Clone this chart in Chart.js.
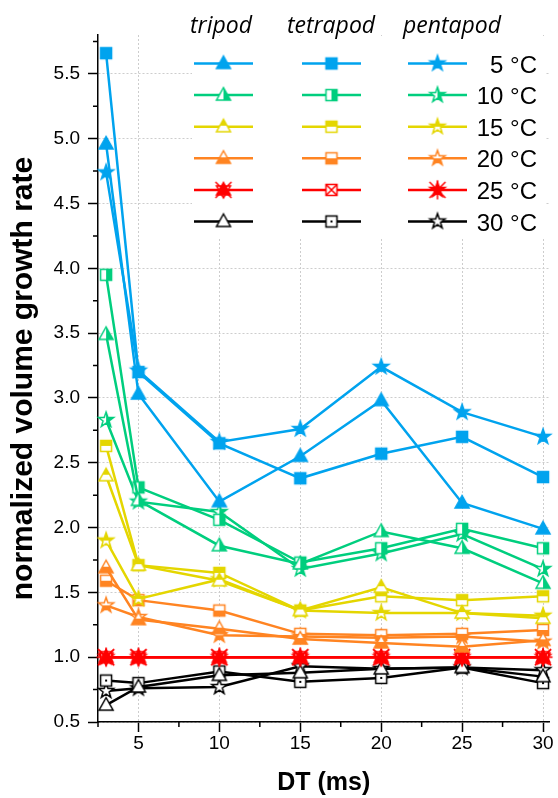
<!DOCTYPE html>
<html>
<head>
<meta charset="utf-8">
<script src="https://cdn.jsdelivr.net/npm/chart.js@4"></script>
<style>
  html, body { margin: 0; padding: 0; background: #fff; }
</style>
</head>
<body>
<canvas id="myChart" width="558" height="798"></canvas>
<script>
// DT values (ms) and groups
const dtValues = [3, 5, 10, 15, 20, 25, 30];
const temperatures = ['5 °C', '10 °C', '15 °C', '20 °C', '25 °C', '30 °C'];
const gaits = ['tripod', 'tetrapod', 'pentapod'];

// normalized volume growth rate, one array per gait and temperature
const tripod5 = [4.96, 3.03, 2.20, 2.55, 2.98, 2.19, 1.99];
const tetrapod5 = [5.66, 3.20, 2.65, 2.38, 2.57, 2.70, 2.39];
const pentapod5 = [4.74, 3.21, 2.66, 2.76, 3.24, 2.89, 2.70];

const tripod10 = [3.49, 2.21, 1.86, 1.72, 1.97, 1.84, 1.57];
const tetrapod10 = [3.95, 2.31, 2.06, 1.73, 1.84, 1.99, 1.84];
const pentapod10 = [2.83, 2.20, 2.12, 1.68, 1.80, 1.95, 1.68];

const tripod15 = [2.40, 1.71, 1.59, 1.36, 1.54, 1.34, 1.30];
const tetrapod15 = [2.63, 1.71, 1.65, 1.36, 1.47, 1.44, 1.47];
const pentapod15 = [1.90, 1.45, 1.60, 1.36, 1.34, 1.34, 1.32];

const tripod20 = [1.69, 1.29, 1.22, 1.14, 1.11, 1.08, 1.13];
const tetrapod20 = [1.59, 1.44, 1.36, 1.18, 1.17, 1.18, 1.21];
const pentapod20 = [1.40, 1.31, 1.17, 1.16, 1.15, 1.16, 1.12];

const tripod25 = [1.00, 1.00, 1.00, 1.00, 1.00, 1.00, 1.00];
const tetrapod25 = [1.00, 1.00, 1.00, 1.00, 1.00, 1.00, 1.00];
const pentapod25 = [1.00, 1.00, 1.00, 1.00, 1.00, 1.00, 1.00];

const tripod30 = [0.63, 0.77, 0.86, 0.88, 0.91, 0.92, 0.85];
const tetrapod30 = [0.82, 0.80, 0.89, 0.81, 0.84, 0.92, 0.80];
const pentapod30 = [0.74, 0.76, 0.77, 0.93, 0.91, 0.92, 0.90];

// tick labels
const xMajorTicks = [5, 10, 15, 20, 25, 30];
const yMajorTicks = [0.5, 1.0, 1.5, 2.0, 2.5, 3.0, 3.5, 4.0, 4.5, 5.0, 5.5];

const seriesByTemp = [
  [tripod5, tetrapod5, pentapod5],
  [tripod10, tetrapod10, pentapod10],
  [tripod15, tetrapod15, pentapod15],
  [tripod20, tetrapod20, pentapod20],
  [tripod25, tetrapod25, pentapod25],
  [tripod30, tetrapod30, pentapod30]
];

const colors = ['#00A3EE', '#00CE7E', '#E4D600', '#FF8422', '#FF0000', '#000000'];
const fills = ['full', 'right', 'top', 'bottom', 'cross', 'hollow'];
const shapes = ['triangle', 'square', 'star'];

const FONT = "'Liberation Sans', Arial, sans-serif";
Chart.defaults.font.family = FONT;
Chart.defaults.color = '#000';
Chart.defaults.animation = false;

// small canvas images used as point styles
function makeMarker(shape, color, fill) {
  const s = 22;
  const c = document.createElement('canvas');
  c.width = s; c.height = s;
  const g = c.getContext('2d');
  const m = s / 2;
  function path() {
    g.beginPath();
    if (shape === 'triangle') {
      g.moveTo(m, m - 7.5);
      g.lineTo(m + 7, m + 5);
      g.lineTo(m - 7, m + 5);
      g.closePath();
    } else if (shape === 'square') {
      g.rect(m - 5.5, m - 5.5, 11, 11);
    } else {
      for (let i = 0; i < 10; i++) {
        const r = i % 2 ? 3.2 : 8;
        const a = -Math.PI / 2 + i * Math.PI / 5;
        g.lineTo(m + r * Math.cos(a), m + r * Math.sin(a));
      }
      g.closePath();
    }
  }
  g.lineWidth = 1.5;
  g.strokeStyle = color;
  path();
  g.fillStyle = (fill === 'full' || (fill === 'cross' && shape !== 'square')) ? color : '#fff';
  g.fill();
  if (fill === 'right' || fill === 'top' || fill === 'bottom') {
    const mid = shape === 'triangle' ? m - 1 : m;
    g.save();
    g.beginPath();
    if (fill === 'right') g.rect(m, 0, m, s);
    if (fill === 'top') g.rect(0, 0, s, mid);
    if (fill === 'bottom') g.rect(0, mid, s, s - mid);
    g.clip();
    path();
    g.fillStyle = color;
    g.fill();
    g.restore();
  }
  path();
  g.stroke();
  if (fill === 'cross') {
    g.beginPath();
    const d = shape === 'square' ? 5.5 : 8;
    g.moveTo(m - d, m - d); g.lineTo(m + d, m + d);
    g.moveTo(m + d, m - d); g.lineTo(m - d, m + d);
    if (shape === 'star') {
      g.moveTo(m, m - 9.5); g.lineTo(m, m + 9.5);
      g.moveTo(m - 9.5, m); g.lineTo(m + 9.5, m);
    }
    if (shape === 'triangle') {
      g.moveTo(m - 7, m - 4); g.lineTo(m + 7, m - 4);
      g.lineTo(m, m + 8); g.closePath();
    }
    g.stroke();
  }
  if (fill === 'hollow' && shape === 'square') {
    g.fillStyle = color;
    g.fillRect(m - 1, m - 1, 2, 2);
  }
  return c;
}

const markers = colors.map((col, i) => shapes.map(sh => makeMarker(sh, col, fills[i])));

const datasets = [];
seriesByTemp.forEach((group, i) => {
  group.forEach((vals, j) => {
    datasets.push({
      label: gaits[j] + ' ' + temperatures[i],
      data: dtValues.map((x, k) => ({ x: x, y: vals[k] })),
      borderColor: colors[i],
      backgroundColor: colors[i],
      borderWidth: 2.5,
      pointStyle: markers[i][j],
      pointRadius: 6,
      tension: 0,
      fill: false,
      clip: false
    });
  });
});

// minor tick marks between the major ones
const minorTicks = {
  id: 'minorTicks',
  afterDraw(chart) {
    const { ctx, scales: { x, y } } = chart;
    ctx.save();
    ctx.strokeStyle = '#000';
    ctx.lineWidth = 1.5;
    ctx.beginPath();
    const xStep = xMajorTicks[1] - xMajorTicks[0];
    for (let v = xMajorTicks[0] - xStep / 2; v < x.max; v += xStep) {
      const px = x.getPixelForValue(v);
      ctx.moveTo(px, y.bottom);
      ctx.lineTo(px, y.bottom + 5);
    }
    const yStep = yMajorTicks[1] - yMajorTicks[0];
    for (let v = yMajorTicks[0] + yStep / 2; v < y.max; v += yStep) {
      const py = y.getPixelForValue(v);
      ctx.moveTo(x.left, py);
      ctx.lineTo(x.left - 5, py);
    }
    ctx.stroke();
    ctx.restore();
  }
};

// three column legend: tripod / tetrapod / pentapod
const gaitLegend = {
  id: 'gaitLegend',
  afterDraw(chart) {
    const ctx = chart.ctx;
    const colLine = [[194, 253], [302, 361], [408, 467]];
    const headX = [221, 331, 452];
    ctx.save();
    ctx.fillStyle = '#fff';
    ctx.fillRect(192, 36, 353, 202);
    ctx.fillStyle = '#000';
    ctx.font = "italic 23px 'Open Sans', sans-serif";
    ctx.textAlign = 'center';
    ctx.textBaseline = 'alphabetic';
    gaits.forEach((g, j) => ctx.fillText(g, headX[j], 33));
    temperatures.forEach((t, i) => {
      const yy = 63.5 + i * 31.6;
      colLine.forEach((c, j) => {
        ctx.strokeStyle = colors[i];
        ctx.lineWidth = 2.5;
        ctx.beginPath();
        ctx.moveTo(c[0], yy);
        ctx.lineTo(c[1], yy);
        ctx.stroke();
        const img = markers[i][j];
        ctx.drawImage(img, (c[0] + c[1]) / 2 - img.width / 2, yy - img.height / 2);
      });
      ctx.fillStyle = '#000';
      ctx.font = '24px ' + FONT;
      ctx.textAlign = 'right';
      ctx.fillText(t, 537, yy + 9);
    });
    ctx.restore();
  }
};

new Chart(document.getElementById('myChart'), {
  type: 'line',
  data: { datasets: datasets },
  plugins: [minorTicks, gaitLegend],
  options: {
    responsive: false,
    layout: { padding: { top: 35, right: 0.5, left: 0, bottom: 0 } },
    plugins: {
      legend: { display: false },
      tooltip: { enabled: false }
    },
    scales: {
      x: {
        type: 'linear',
        min: 2.5,
        max: 30.4,
        afterBuildTicks: s => { s.ticks = xMajorTicks.map(v => ({ value: v })); },
        afterFit: s => { s.height = 76; s.paddingLeft = 0; s.paddingRight = 0; },
        ticks: {
          callback: v => String(v),
          font: { size: 19 },
          color: '#000',
          padding: 0,
          maxRotation: 0,
          autoSkip: false
        },
        grid: {
          color: '#cdcdcd',
          lineWidth: 1,
          tickColor: '#000',
          tickLength: 10,
          tickWidth: 1.5
        },
        border: { color: '#000', width: 1.5, dash: [2, 2] },
        title: {
          display: true,
          text: 'DT (ms)',
          font: { size: 25, weight: 'bold', lineHeight: 1.2 },
          color: '#000',
          padding: { top: 0, bottom: 0 }
        }
      },
      y: {
        min: 0.5,
        max: 5.8,
        afterBuildTicks: s => { s.ticks = yMajorTicks.map(v => ({ value: v })); },
        afterFit: s => { s.width = 98; s.paddingTop = 0; s.paddingBottom = 0; },
        ticks: {
          callback: v => Number(v).toFixed(1),
          font: { size: 19 },
          color: '#000',
          padding: 8,
          autoSkip: false
        },
        grid: {
          color: '#cdcdcd',
          lineWidth: 1,
          tickColor: '#000',
          tickLength: 10,
          tickWidth: 1.5
        },
        border: { color: '#000', width: 1.5, dash: [2, 2] },
        title: {
          display: true,
          text: 'normalized volume growth rate',
          font: { size: 30, weight: 'bold', lineHeight: 1.2 },
          color: '#000',
          padding: { top: 6, bottom: 0 }
        }
      }
    }
  }
});
</script>
</body>
</html>
